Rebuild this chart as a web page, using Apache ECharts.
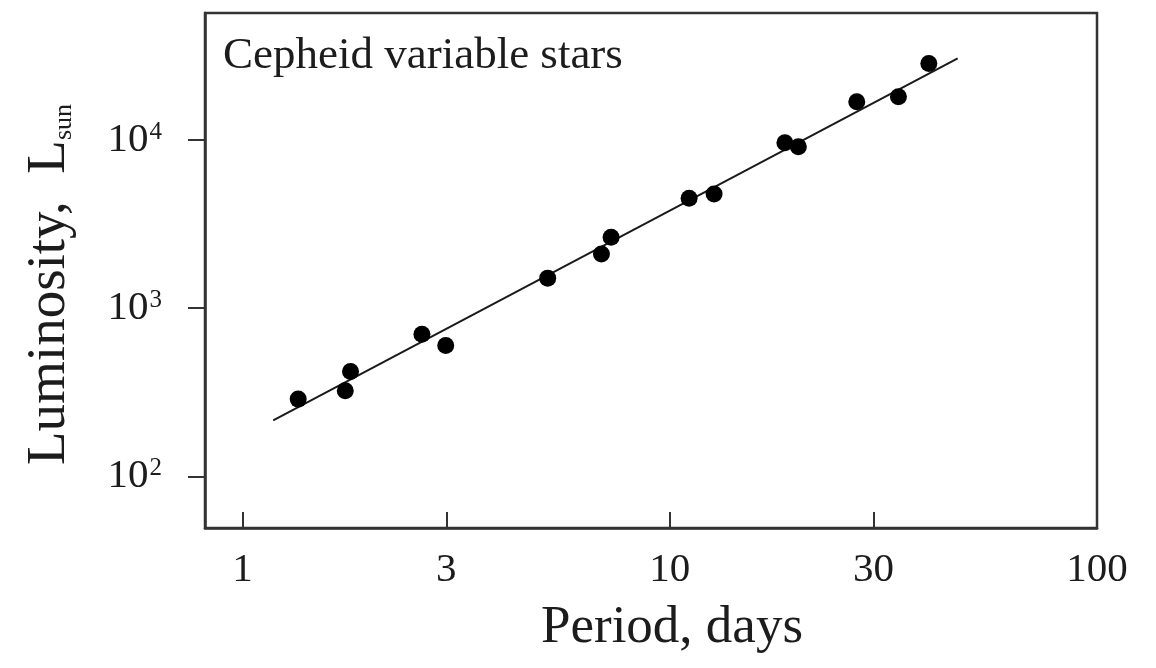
<!DOCTYPE html>
<html>
<head>
<meta charset="utf-8">
<script src="https://cdn.jsdelivr.net/npm/echarts@6/dist/echarts.min.js"></script>
<style>
html,body{margin:0;padding:0;background:#fff;}
#c{width:1156px;height:668px;}
</style>
</head>
<body>
<div id="c"></div>
<script>
// Data (periods in days, luminosities in L_sun)
var periods = [1.35, 1.74, 1.79, 2.63, 2.99, 5.18, 6.92, 7.29, 11.1, 12.7, 18.6, 20.0, 27.4, 34.3, 40.4];
var luminosities = [288, 323, 420, 701, 600, 1510, 2100, 2640, 4510, 4780, 9640, 9120, 16900, 18100, 28500];
// Fitted line endpoints
var fitPeriods = [1.18, 47.2];
var fitLuminosities = [215, 30600];
// Tick labels
var xTicks = [1, 3, 10, 30, 100];
var yTicks = [100, 1000, 10000];
var xRange = [0.817, 100];
var yRange = [49.3, 57000];

var lg = Math.log10;
var scatterData = periods.map(function (p, i) { return [lg(p), lg(luminosities[i])]; });
var fitData = fitPeriods.map(function (p, i) { return [lg(p), lg(fitLuminosities[i])]; });

var FONT = '"Liberation Serif", "DejaVu Serif", serif';
var TXT = '#1c1c1c';

var chart = echarts.init(document.getElementById('c'), null, {renderer: 'canvas'});
chart.setOption({
  animation: false,
  backgroundColor: '#ffffff',
  title: {
    text: 'Cepheid variable stars',
    left: 218, top: 29,
    textStyle: {fontFamily: FONT, fontSize: 45, fontWeight: 'normal', color: TXT}
  },
  grid: {
    left: 205, right: 59, top: 13, bottom: 140,
    show: true, borderColor: '#333', borderWidth: 2.5, backgroundColor: 'transparent'
  },
  xAxis: {
    type: 'value',
    min: lg(xRange[0]), max: lg(xRange[1]),
    splitLine: {show: false},
    axisLine: {show: true, onZero: false, lineStyle: {color: '#333', width: 2.5}},
    axisTick: {show: true, inside: true, length: 16, lineStyle: {color: '#333', width: 2},
      customValues: xTicks.map(lg)},
    axisLabel: {
      customValues: xTicks.map(lg),
      margin: 22,
      fontFamily: FONT, fontSize: 41, color: TXT,
      formatter: function (v) { return String(Math.round(Math.pow(10, v))); }
    },
    name: 'Period, days',
    nameLocation: 'middle',
    nameGap: 74,
    nameTextStyle: {fontFamily: FONT, fontSize: 53, color: TXT, padding: [0, 0, 0, 42]}
  },
  yAxis: {
    type: 'value',
    min: lg(yRange[0]), max: lg(yRange[1]),
    splitLine: {show: false},
    axisLine: {show: true, onZero: false, lineStyle: {color: '#333', width: 2.5}},
    axisTick: {show: true, inside: false, length: 17, lineStyle: {color: '#333', width: 2},
      customValues: yTicks.map(lg)},
    axisLabel: {
      customValues: yTicks.map(lg),
      margin: 43,
      fontFamily: FONT, color: TXT,
      formatter: function (v) { return '{b|10}{s|' + Math.round(v) + '}'; },
      rich: {
        b: {fontFamily: FONT, fontSize: 41, color: TXT},
        s: {fontFamily: FONT, fontSize: 25, color: TXT, verticalAlign: 'top', padding: [0, 0, 0, 1]}
      }
    },
    name: '{a|Luminosity,  L}{b|sun}',
    nameLocation: 'middle',
    nameRotate: 90,
    nameGap: 128,
    nameTextStyle: {
      fontFamily: FONT, color: TXT,
      padding: [0, 28, 0, 0],
      rich: {
        a: {fontFamily: FONT, fontSize: 55, color: TXT},
        b: {fontFamily: FONT, fontSize: 26, color: TXT, lineHeight: 14, verticalAlign: 'bottom'}
      }
    }
  },
  series: [
    {
      type: 'line',
      data: fitData,
      symbol: 'none',
      lineStyle: {color: '#1a1a1a', width: 2},
      z: 2
    },
    {
      type: 'scatter',
      data: scatterData,
      symbol: 'circle',
      symbolSize: 17,
      itemStyle: {color: '#000', opacity: 1},
      z: 3
    }
  ]
});
</script>
</body>
</html>
